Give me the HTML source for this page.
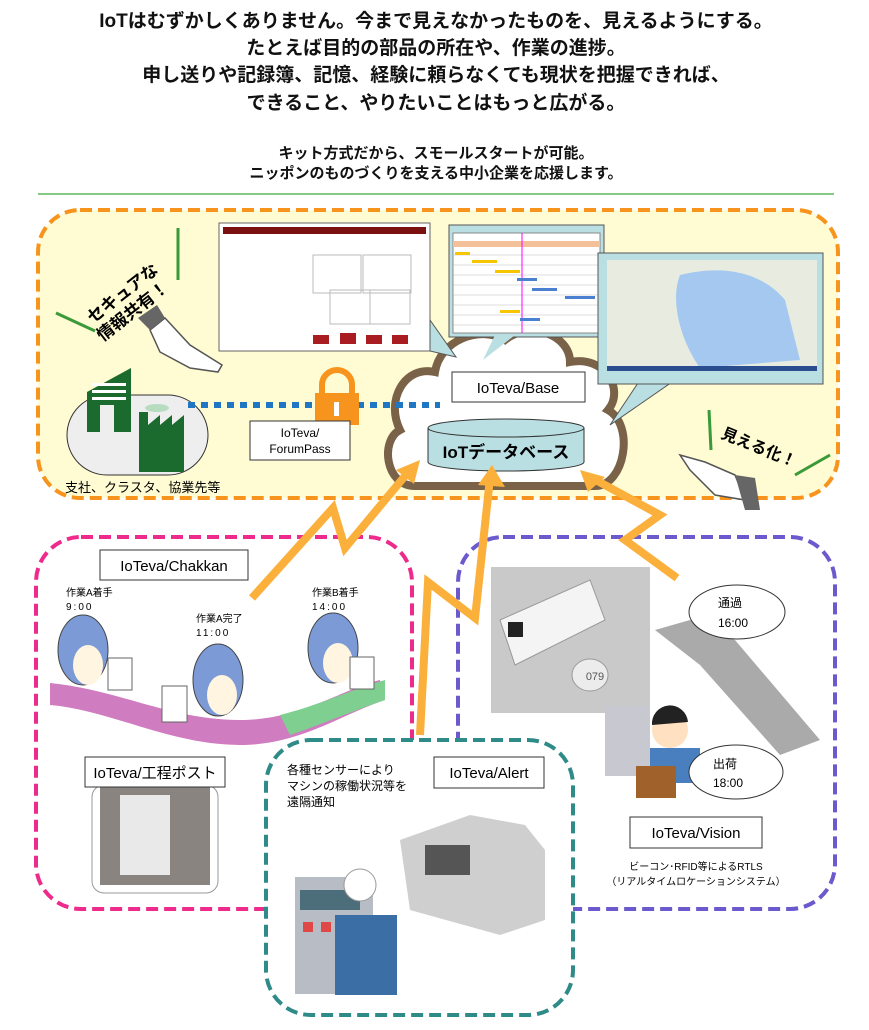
<!DOCTYPE html>
<html><head><meta charset="utf-8"><style>
body{margin:0;background:#fff;}
svg{display:block;font-family:"Liberation Sans","Noto Sans CJK JP",sans-serif;}
</style></head><body>
<svg width="869" height="1030" viewBox="0 0 869 1030" xmlns="http://www.w3.org/2000/svg">
<g font-weight="bold" text-anchor="middle" fill="#111">
<text x="436" y="27" font-size="19">IoTはむずかしくありません。今まで見えなかったものを、見えるようにする。</text>
<text x="436" y="54" font-size="19">たとえば目的の部品の所在や、作業の進捗。</text>
<text x="436" y="81" font-size="19">申し送りや記録簿、記憶、経験に頼らなくても現状を把握できれば、</text>
<text x="436" y="109" font-size="19">できること、やりたいことはもっと広がる。</text>
<text x="436" y="158" font-size="15">キット方式だから、スモールスタートが可能。</text>
<text x="436" y="178" font-size="15">ニッポンのものづくりを支える中小企業を応援します。</text>
</g>
<line x1="38" y1="194" x2="834" y2="194" stroke="#5cb85c" stroke-width="1.5"/>

<!-- top yellow box -->
<rect x="38" y="210" width="800" height="288" rx="42" fill="#fffbd2" stroke="#f7941d" stroke-width="4" stroke-dasharray="12 6"/>
<line x1="178" y1="228" x2="178" y2="280" stroke="#3a9a3a" stroke-width="3"/>
<line x1="56" y1="313" x2="95" y2="331" stroke="#3a9a3a" stroke-width="3"/>
<line x1="709" y1="410" x2="711" y2="450" stroke="#3a9a3a" stroke-width="3"/>
<line x1="795" y1="475" x2="830" y2="455" stroke="#3a9a3a" stroke-width="3"/>
<text x="120" y="300" font-size="17" font-weight="bold" transform="rotate(-38 120 290)" text-anchor="middle">セキュアな</text>
<text x="130" y="318" font-size="17" font-weight="bold" transform="rotate(-38 130 308)" text-anchor="middle">情報共有！</text>
<text x="760" y="453" font-size="16" font-weight="bold" transform="rotate(22 760 445)" text-anchor="middle">見える化！</text>
<!-- hands -->
<path d="M150 330 L165 318 L190 345 L222 365 L218 372 L190 368 L160 352 Z" fill="#fff" stroke="#555" stroke-width="1.5"/>
<path d="M150 330 L165 318 L157 305 L138 318 Z" fill="#666"/>
<path d="M680 455 L705 462 L735 475 L745 500 L715 495 L690 470 Z" fill="#fff" stroke="#555" stroke-width="1.5"/>
<path d="M735 475 L755 478 L760 510 L745 510 Z" fill="#666"/>
<!-- cloud -->
<path d="M415 486 C385 486 380 440 400 430 C385 400 405 365 435 372 C440 340 480 325 505 340 C530 320 570 335 570 362 C605 355 625 390 608 410 C635 425 625 486 595 486 Z" fill="#fff" stroke="#7a6248" stroke-width="8"/>
<!-- screenshots -->
<rect x="219" y="223" width="211" height="128" fill="#fff" stroke="#666"/>
<rect x="223" y="227" width="203" height="7" fill="#7a1010"/>
<rect x="313" y="335" width="16" height="9" fill="#a81c22"/><rect x="340" y="333" width="16" height="11" fill="#a81c22"/><rect x="366" y="335" width="16" height="9" fill="#a81c22"/><rect x="392" y="335" width="16" height="9" fill="#a81c22"/>
<rect x="313" y="255" width="48" height="38" fill="none" stroke="#bbb"/><rect x="363" y="255" width="48" height="38" fill="none" stroke="#bbb"/>
<rect x="330" y="290" width="40" height="34" fill="none" stroke="#bbb"/><rect x="370" y="290" width="40" height="34" fill="none" stroke="#bbb"/>
<path d="M430 320 L456 357 L430 351 Z" fill="#b9dfe3" stroke="#555"/>
<rect x="449" y="225" width="155" height="112" fill="#b9dfe3" stroke="#555"/>
<rect x="453" y="233" width="147" height="100" fill="#fff" stroke="#888"/>
<rect x="453" y="241" width="147" height="6" fill="#f4c09a"/>
<g stroke="#bbb" stroke-width="0.6"><line x1="453" y1="255" x2="600" y2="255"/><line x1="453" y1="265" x2="600" y2="265"/><line x1="453" y1="275" x2="600" y2="275"/><line x1="453" y1="285" x2="600" y2="285"/><line x1="453" y1="295" x2="600" y2="295"/><line x1="453" y1="305" x2="600" y2="305"/><line x1="453" y1="315" x2="600" y2="315"/><line x1="453" y1="325" x2="600" y2="325"/></g>
<line x1="522" y1="233" x2="522" y2="333" stroke="#f0f" stroke-width="1"/>
<rect x="455" y="252" width="15" height="3" fill="#f6c700"/><rect x="472" y="260" width="25" height="3" fill="#f6c700"/><rect x="495" y="270" width="25" height="3" fill="#f6c700"/><rect x="517" y="278" width="20" height="3" fill="#4b7fd1"/><rect x="532" y="288" width="25" height="3" fill="#4b7fd1"/><rect x="565" y="296" width="30" height="3" fill="#4b7fd1"/><rect x="500" y="310" width="20" height="3" fill="#f6c700"/><rect x="520" y="318" width="20" height="3" fill="#4b7fd1"/>
<path d="M495 335 L483 360 L515 335 Z" fill="#b9dfe3"/>
<path d="M640 380 L610 425 L675 380 Z" fill="#b9dfe3" stroke="#555"/>
<rect x="598" y="253" width="225" height="131" fill="#b9dfe3" stroke="#555"/>
<rect x="607" y="260" width="210" height="110" fill="#e8ebe0"/>
<path d="M680 275 C720 265 760 270 785 300 L800 360 L700 368 C680 340 670 300 680 275 Z" fill="#a4c8f0"/>
<rect x="607" y="366" width="210" height="5" fill="#2a4d8f"/>
<!-- Base label -->
<rect x="452" y="372" width="133" height="30" fill="#fff" stroke="#333"/>
<text x="518" y="393" font-size="15" text-anchor="middle">IoTeva/Base</text>
<!-- DB -->
<path d="M428 428 L428 462 A78 9 0 0 0 584 462 L584 428" fill="#b9dfe3" stroke="#333"/>
<ellipse cx="506" cy="428" rx="78" ry="9" fill="#b9dfe3" stroke="#333"/>
<text x="506" y="458" font-size="17" font-weight="bold" text-anchor="middle">IoTデータベース</text>
<!-- factory -->
<rect x="67" y="395" width="141" height="80" rx="40" fill="#eee" stroke="#333"/>
<path d="M87 392 L131 368 L131 432 L114 432 L114 405 L100 405 L100 432 L87 432 Z" fill="#1c6b2e"/>
<rect x="92" y="383" width="34" height="3" fill="#fff"/><rect x="92" y="390" width="34" height="3" fill="#fff"/><rect x="92" y="397" width="34" height="3" fill="#fff"/>
<path d="M139 412 L148 412 L148 425 L160 415 L160 425 L172 415 L172 425 L184 415 L184 472 L139 472 Z" fill="#1c6b2e"/>
<ellipse cx="157" cy="408" rx="12" ry="4" fill="#b7ddc0"/>
<text x="65" y="492" font-size="13">支社、クラスタ、協業先等</text>
<line x1="188" y1="405" x2="440" y2="405" stroke="#1f77c4" stroke-width="6" stroke-dasharray="7 6"/>
<path d="M322 395 L322 385 A15 15 0 0 1 352 385 L352 395" fill="none" stroke="#f7941d" stroke-width="6"/>
<rect x="315" y="393" width="44" height="32" fill="#f7941d"/>
<rect x="334" y="402" width="5" height="14" fill="#fff"/>
<rect x="250" y="421" width="100" height="39" fill="#fff" stroke="#333"/>
<text x="300" y="437" font-size="12" text-anchor="middle">IoTeva/</text>
<text x="300" y="453" font-size="12" text-anchor="middle">ForumPass</text>

<!-- pink box -->
<rect x="36" y="537" width="376" height="372" rx="45" fill="none" stroke="#ee2a8c" stroke-width="4" stroke-dasharray="12 6"/>
<!-- purple box -->
<rect x="458" y="537" width="377" height="372" rx="45" fill="none" stroke="#6a5acd" stroke-width="4" stroke-dasharray="12 6"/>
<rect x="100" y="550" width="148" height="30" fill="#fff" stroke="#333"/>
<text x="174" y="571" font-size="15" text-anchor="middle">IoTeva/Chakkan</text>
<g font-size="10"><text x="66" y="596">作業A着手</text><text x="66" y="610" letter-spacing="2">9:00</text>
<text x="312" y="596">作業B着手</text><text x="312" y="610" letter-spacing="2">14:00</text>
<text x="196" y="622">作業A完了</text><text x="196" y="636" letter-spacing="2">11:00</text></g>
<path d="M50 683 C120 690 170 720 240 720 C300 720 340 690 380 680 L385 700 C340 715 300 745 240 745 C170 745 110 710 50 705 Z" fill="#d07cc0"/>
<path d="M280 715 C320 705 350 690 385 680 L385 700 C350 712 320 725 290 735 Z" fill="#7ecf90"/>
<ellipse cx="83" cy="650" rx="25" ry="35" fill="#7c9ad6" stroke="#444"/><ellipse cx="88" cy="665" rx="15" ry="20" fill="#fff5e0"/>
<ellipse cx="218" cy="680" rx="25" ry="36" fill="#7c9ad6" stroke="#444"/><ellipse cx="222" cy="695" rx="15" ry="20" fill="#fff5e0"/>
<ellipse cx="333" cy="648" rx="25" ry="35" fill="#7c9ad6" stroke="#444"/><ellipse cx="338" cy="663" rx="15" ry="20" fill="#fff5e0"/>
<rect x="108" y="658" width="24" height="32" fill="#fff" stroke="#666"/><rect x="162" y="686" width="25" height="36" fill="#fff" stroke="#666"/><rect x="350" y="657" width="24" height="32" fill="#fff" stroke="#666"/>
<rect x="92" y="785" width="126" height="108" rx="12" fill="#fff" stroke="#999"/>
<rect x="100" y="785" width="110" height="100" fill="#8a8480"/>
<rect x="120" y="795" width="50" height="80" fill="#e9e9e9"/>
<rect x="85" y="757" width="140" height="30" fill="#fff" stroke="#333"/>
<text x="155" y="778" font-size="15" text-anchor="middle">IoTeva/工程ポスト</text>

<!-- vision -->
<rect x="491" y="567" width="159" height="146" fill="#c9c9c9"/>
<path d="M500 620 L590 580 L605 620 L515 665 Z" fill="#f4f4f4" stroke="#999"/>
<rect x="508" y="622" width="15" height="15" fill="#222"/>
<ellipse cx="590" cy="675" rx="18" ry="16" fill="#ececec" stroke="#999"/>
<text x="595" y="680" font-size="11" text-anchor="middle" fill="#555">079</text>
<path d="M655 630 L700 665 L780 755 L820 740 L735 640 L690 620 Z" fill="#aaa"/>
<rect x="605" y="706" width="45" height="70" fill="#c8c8d0"/>
<circle cx="670" cy="730" r="18" fill="#ffe0c0"/><path d="M652 725 A18 18 0 0 1 688 722 Z" fill="#222"/>
<rect x="650" y="748" width="50" height="35" fill="#4a7fbf"/>
<rect x="636" y="766" width="40" height="32" fill="#a0622a"/>
<ellipse cx="737" cy="612" rx="48" ry="27" fill="#fff" stroke="#333"/>
<text x="718" y="607" font-size="12">通過</text><text x="718" y="627" font-size="12">16:00</text>
<ellipse cx="736" cy="772" rx="47" ry="27" fill="#fff" stroke="#333"/>
<text x="713" y="768" font-size="12">出荷</text><text x="713" y="787" font-size="12">18:00</text>
<rect x="630" y="817" width="132" height="31" fill="#fff" stroke="#333"/>
<text x="696" y="838" font-size="15" text-anchor="middle">IoTeva/Vision</text>
<text x="696" y="870" font-size="10" text-anchor="middle">ビーコン･RFID等によるRTLS</text>
<text x="696" y="885" font-size="10" text-anchor="middle">（リアルタイムロケーションシステム）</text>

<!-- teal box -->
<rect x="266" y="740" width="307" height="275" rx="45" fill="#fff" stroke="#2e8b88" stroke-width="4" stroke-dasharray="12 6"/>
<text x="287" y="774" font-size="12">各種センサーにより</text>
<text x="287" y="790" font-size="12">マシンの稼働状況等を</text>
<text x="287" y="806" font-size="12">遠隔通知</text>
<rect x="434" y="757" width="110" height="31" fill="#fff" stroke="#333"/>
<text x="489" y="778" font-size="15" text-anchor="middle">IoTeva/Alert</text>
<path d="M400 840 L470 815 L525 825 L545 850 L545 920 L500 935 L410 910 Z" fill="#cfcfcf"/>
<rect x="425" y="845" width="45" height="30" fill="#555"/>
<rect x="295" y="877" width="78" height="117" fill="#b8bcc4"/>
<rect x="300" y="890" width="60" height="20" fill="#4c6e7a"/>
<rect x="303" y="922" width="10" height="10" fill="#e04848"/><rect x="321" y="922" width="10" height="10" fill="#e04848"/><rect x="340" y="922" width="10" height="10" fill="#e04848"/>
<circle cx="360" cy="885" r="16" fill="#fff" stroke="#999"/>
<rect x="335" y="915" width="62" height="80" fill="#3a6ea5"/>

<!-- arrows -->
<g fill="none" stroke="#fbb03b" stroke-width="8" stroke-linejoin="miter">
<polyline points="252,598 333,508 345,548 410,470"/>
<polyline points="420,735 428,582 475,618 490,478"/>
<polyline points="677,578 625,540 660,515 592,478"/>
</g>
<g fill="#fbb03b">
<polygon points="420,460 396,470 414,484"/>
<polygon points="492,465 478,485 505,487"/>
<polygon points="580,470 588,492 605,477"/>
</g>
</svg>
</body></html>
